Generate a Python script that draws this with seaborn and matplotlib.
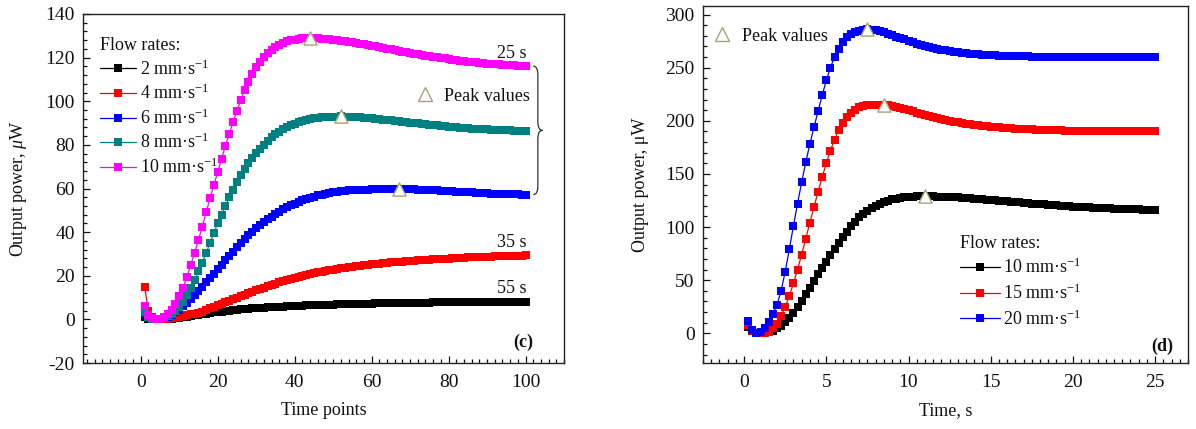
import numpy as np
import seaborn as sns
import matplotlib.pyplot as plt
from matplotlib.lines import Line2D
from matplotlib.path import Path
from matplotlib.patches import PathPatch
from matplotlib.ticker import MultipleLocator

# (c) output power vs time point, five flow rates (100 points each)
time_points = np.arange(1, 101)

p2 = [1.0, 0.3, 0.1, 0.0, 0.0, 0.1, 0.2, 0.4, 0.6, 0.8,
      1.0, 1.3, 1.6, 1.9, 2.1, 2.4, 2.7, 2.9, 3.2, 3.4,
      3.6, 3.8, 4.0, 4.2, 4.4, 4.6, 4.7, 4.9, 5.0, 5.2,
      5.3, 5.4, 5.5, 5.6, 5.7, 5.8, 5.9, 6.0, 6.1, 6.2,
      6.3, 6.35, 6.4, 6.5, 6.55, 6.6, 6.65, 6.7, 6.75, 6.8,
      6.85, 6.9, 6.95, 7.0, 7.05, 7.1, 7.1, 7.15, 7.2, 7.25,
      7.3, 7.3, 7.35, 7.4, 7.4, 7.45, 7.5, 7.5, 7.55, 7.6,
      7.6, 7.65, 7.65, 7.7, 7.7, 7.75, 7.75, 7.8, 7.8, 7.85,
      7.85, 7.9, 7.9, 7.9, 7.95, 7.95, 8.0, 8.0, 8.0, 8.05,
      8.05, 8.05, 8.1, 8.1, 8.1, 8.15, 8.15, 8.15, 8.2, 8.2]

p4 = [15.0, 4.0, 1.0, 0.2, 0.0, 0.1, 0.3, 0.6, 0.9, 1.2,
      1.5, 1.9, 2.3, 2.7, 3.1, 3.6, 4.3, 5.0, 5.7, 6.4,
      7.1, 7.8, 8.5, 9.2, 9.9, 10.6, 11.3, 12.0, 12.7, 13.3,
      14.0, 14.6, 15.2, 15.8, 16.4, 17.0, 17.5, 18.0, 18.5, 19.0,
      19.5, 19.9, 20.3, 20.7, 21.1, 21.5, 21.9, 22.2, 22.5, 22.8,
      23.1, 23.4, 23.7, 23.9, 24.2, 24.4, 24.6, 24.8, 25.0, 25.2,
      25.4, 25.6, 25.8, 25.9, 26.1, 26.2, 26.4, 26.5, 26.7, 26.8,
      26.9, 27.0, 27.2, 27.3, 27.4, 27.5, 27.6, 27.7, 27.8, 27.9,
      28.0, 28.1, 28.2, 28.3, 28.4, 28.4, 28.5, 28.6, 28.7, 28.7,
      28.8, 28.9, 28.9, 29.0, 29.0, 29.1, 29.1, 29.2, 29.2, 29.3]

p6 = [2.5, 0.8, 0.2, 0.0, 0.2, 0.6, 1.3, 2.2, 3.3, 4.5,
      6.0, 7.6, 9.3, 11.1, 13.0, 15.0, 17.0, 19.0, 21.0, 23.0,
      25.0, 27.0, 29.0, 31.0, 33.0, 35.0, 36.8, 38.5, 40.1, 41.7,
      43.2, 44.6, 45.9, 47.1, 48.3, 49.4, 50.4, 51.4, 52.3, 53.1,
      53.9, 54.6, 55.2, 55.8, 56.3, 56.8, 57.2, 57.6, 57.9, 58.2,
      58.5, 58.7, 58.9, 59.1, 59.2, 59.3, 59.4, 59.5, 59.5, 59.6,
      59.6, 59.6, 59.7, 59.7, 59.7, 59.7, 59.8, 59.7, 59.7, 59.6,
      59.6, 59.5, 59.5, 59.4, 59.3, 59.2, 59.1, 59.0, 58.9, 58.8,
      58.7, 58.6, 58.5, 58.4, 58.3, 58.2, 58.1, 58.0, 57.9, 57.8,
      57.7, 57.7, 57.6, 57.5, 57.5, 57.4, 57.3, 57.3, 57.2, 57.2]

p8 = [3.5, 1.0, 0.2, 0.0, 0.3, 0.8, 1.6, 2.6, 4.0, 5.5,
      8.0, 11.0, 14.5, 18.0, 22.0, 26.0, 30.5, 35.0, 39.5, 44.0,
      48.0, 52.0, 56.0, 59.5, 63.0, 66.0, 69.0, 71.5, 74.0, 76.2,
      78.2, 80.1, 81.8, 83.4, 84.8, 86.0, 87.1, 88.1, 88.9, 89.7,
      90.3, 90.9, 91.4, 91.8, 92.1, 92.4, 92.6, 92.8, 92.9, 93.0,
      93.0, 93.1, 93.0, 92.9, 92.9, 92.8, 92.7, 92.5, 92.4, 92.2,
      92.0, 91.8, 91.6, 91.4, 91.2, 91.0, 90.8, 90.6, 90.4, 90.2,
      90.0, 89.8, 89.6, 89.4, 89.2, 89.0, 88.9, 88.7, 88.5, 88.4,
      88.2, 88.1, 87.9, 87.8, 87.7, 87.5, 87.4, 87.3, 87.2, 87.1,
      87.0, 86.9, 86.8, 86.7, 86.6, 86.6, 86.5, 86.4, 86.4, 86.3]

p10 = [6.0, 2.0, 0.5, 0.0, 0.3, 1.0, 2.5, 4.5, 7.0, 10.5,
       14.5, 19.5, 25.0, 30.5, 36.5, 42.5, 49.0, 55.5, 61.5, 67.5,
       73.5, 79.5, 85.0, 90.5, 95.5, 100.5, 105.0, 109.0, 112.5, 115.5,
       118.0, 120.2, 122.0, 123.6, 124.9, 125.9, 126.7, 127.4, 127.9, 128.3,
       128.6, 128.8, 128.9, 129.0, 128.9, 128.8, 128.7, 128.6, 128.4, 128.2,
       128.0, 127.8, 127.6, 127.3, 127.0, 126.7, 126.4, 126.1, 125.8, 125.5,
       125.1, 124.8, 124.4, 124.1, 123.8, 123.4, 123.1, 122.8, 122.5, 122.1,
       121.8, 121.5, 121.2, 120.9, 120.6, 120.3, 120.1, 119.8, 119.6, 119.3,
       119.1, 118.9, 118.6, 118.4, 118.2, 118.0, 117.8, 117.7, 117.5, 117.3,
       117.2, 117.0, 116.9, 116.8, 116.6, 116.5, 116.4, 116.3, 116.2, 116.1]

# (d) output power vs time in seconds, 0.25 s per point
time_s = time_points * 0.25

p15 = [8.0, 2.0, 0.3, 0.0, 0.4, 1.5, 4.5, 9.0, 16.0, 25.0,
       35.0, 47.0, 60.0, 74.0, 89.0, 104.0, 119.0, 133.0, 147.0, 160.0,
       172.0, 182.0, 191.0, 198.0, 203.5, 207.5, 210.5, 212.5, 213.8, 214.5,
       214.7, 214.8, 214.9, 215.0, 214.7, 214.1, 213.3, 212.3, 211.2, 210.0,
       208.8, 207.6, 206.5, 205.4, 204.4, 203.4, 202.5, 201.6, 200.8, 200.0,
       199.3, 198.6, 198.0, 197.4, 196.8, 196.3, 195.8, 195.3, 194.9, 194.5,
       194.1, 193.8, 193.5, 193.2, 192.9, 192.7, 192.4, 192.2, 192.0, 191.8,
       191.7, 191.5, 191.4, 191.3, 191.1, 191.0, 190.9, 190.8, 190.7, 190.7,
       190.6, 190.6, 190.5, 190.5, 190.5, 190.4, 190.4, 190.4, 190.3, 190.3,
       190.3, 190.3, 190.2, 190.2, 190.2, 190.2, 190.1, 190.1, 190.1, 190.1]

p20 = [12.0, 3.0, 0.5, 1.5, 5.0, 10.5, 18.0, 27.0, 40.0, 58.0,
       79.0, 101.0, 122.0, 142.0, 161.0, 178.0, 194.0, 209.0, 224.0, 238.0,
       250.0, 260.0, 268.0, 274.0, 278.5, 281.6, 283.6, 284.9, 285.6, 285.9,
       285.7, 285.1, 284.2, 283.1, 281.9, 280.6, 279.3, 277.9, 276.5, 275.1,
       273.8, 272.6, 271.5, 270.5, 269.5, 268.6, 267.8, 267.0, 266.3, 265.7,
       265.1, 264.6, 264.1, 263.7, 263.3, 262.9, 262.6, 262.3, 262.0, 261.8,
       261.6, 261.4, 261.2, 261.0, 260.9, 260.8, 260.7, 260.6, 260.5, 260.4,
       260.3, 260.3, 260.2, 260.2, 260.1, 260.1, 260.0, 260.0, 260.0, 259.9,
       259.9, 259.9, 259.9, 259.8, 259.8, 259.8, 259.8, 259.8, 259.7, 259.7,
       259.7, 259.7, 259.7, 259.7, 259.6, 259.6, 259.6, 259.6, 259.6, 259.6]

labels_c = ['2 mm·s$^{-1}$', '4 mm·s$^{-1}$', '6 mm·s$^{-1}$', '8 mm·s$^{-1}$', '10 mm·s$^{-1}$']
colors_c = ['#000000', '#ff0000', '#0000ff', '#008080', '#ff00ff']
labels_d = ['10 mm·s$^{-1}$', '15 mm·s$^{-1}$', '20 mm·s$^{-1}$']
colors_d = ['#000000', '#ff0000', '#0000ff']
end_notes = ['55 s', '35 s', None, None, '25 s']

PEAK = '#a8a472'
FS = 13
TICK_FS = 14

sns.set_style('ticks')
plt.rcParams['font.family'] = ['Liberation Serif', 'DejaVu Serif']
plt.rcParams['mathtext.fontset'] = 'custom'
plt.rcParams['mathtext.rm'] = 'Liberation Serif'
plt.rcParams['mathtext.it'] = 'Liberation Serif:italic'
plt.rcParams['mathtext.bf'] = 'Liberation Serif:bold'
plt.rcParams['axes.unicode_minus'] = False
plt.rcParams['text.color'] = '#111111'
plt.rcParams['axes.labelcolor'] = '#111111'


def draw_series(ax, x, series, colors):
    for y, col in zip(series, colors):
        sns.lineplot(x=x, y=y, ax=ax, color=col, marker='s', markersize=6,
                     markeredgewidth=0, linewidth=0.9, legend=False)
    return ax.get_lines()[-len(series):]


def mark_peaks(ax, x, series):
    for y in series:
        i = int(np.argmax(y))
        sns.scatterplot(x=[x[i]], y=[y[i]], ax=ax, marker='^', s=90,
                        facecolor='white', edgecolor=PEAK, linewidth=1.0,
                        zorder=6, legend=False)


def style_axes(ax, xmaj, xmin, ymaj, ymin):
    ax.xaxis.set_major_locator(MultipleLocator(xmaj))
    ax.xaxis.set_minor_locator(MultipleLocator(xmin))
    ax.yaxis.set_major_locator(MultipleLocator(ymaj))
    ax.yaxis.set_minor_locator(MultipleLocator(ymin))
    ax.tick_params(which='both', direction='in', top=False, right=False,
                   labelsize=TICK_FS, width=0.9, colors='#111111')
    ax.tick_params(which='major', length=5)
    ax.tick_params(which='minor', length=2.8)
    ax.tick_params(axis='x', which='major', pad=8)
    ax.tick_params(axis='y', which='major', pad=6)
    for s in ax.spines.values():
        s.set_color('#222222')
        s.set_linewidth(1.0)


peak_handle = Line2D([], [], marker='^', ls='none', ms=10, mfc='white',
                     mec=PEAK, mew=1.0)

fig = plt.figure(figsize=(11.96, 4.29), dpi=100)
ax_c = fig.add_axes([0.0694, 0.1538, 0.4022, 0.8136])
ax_d = fig.add_axes([0.5878, 0.1538, 0.4055, 0.8322])

# ---- panel (c)
series_c = [p2, p4, p6, p8, p10]
lines_c = draw_series(ax_c, time_points, series_c, colors_c)
mark_peaks(ax_c, time_points, [p6, p8, p10])
ax_c.set_xlim(-15, 110)
ax_c.set_ylim(-20, 140)
style_axes(ax_c, 20, 2, 20, 4)
ax_c.set_xlabel('Time points', fontsize=FS, labelpad=8)
ax_c.set_ylabel('Output power, $\\mu$W', fontsize=FS, labelpad=12)

for y, note in zip(series_c, end_notes):
    if note:
        ax_c.annotate(note, xy=(time_points[-1], y[-1]), xytext=(1, 3),
                      textcoords='offset points', ha='right', va='bottom',
                      fontsize=FS)

# curly brace grouping the three curves that peak
xb, wb = 102.0, 2.4
yt, yb = p10[-1], p6[-1]
ym, d = (yt + yb) / 2, 4.0
verts = [(xb, yt), (xb + wb / 2, yt), (xb + wb / 2, yt - d),
         (xb + wb / 2, ym + d),
         (xb + wb / 2, ym), (xb + wb, ym),
         (xb + wb / 2, ym), (xb + wb / 2, ym - d),
         (xb + wb / 2, yb + d),
         (xb + wb / 2, yb), (xb, yb)]
codes = [Path.MOVETO, Path.CURVE3, Path.CURVE3, Path.LINETO,
         Path.CURVE3, Path.CURVE3, Path.CURVE3, Path.CURVE3,
         Path.LINETO, Path.CURVE3, Path.CURVE3]
ax_c.add_patch(PathPatch(Path(verts, codes), fill=False, lw=0.9,
                         edgecolor='#333333', clip_on=False))

leg1 = ax_c.legend(lines_c, labels_c, title='Flow rates:', loc='upper left',
                   bbox_to_anchor=(0.02, 0.955), frameon=False, fontsize=FS,
                   title_fontsize=FS, handlelength=2.0, handletextpad=0.2,
                   labelspacing=0.29, alignment='left', borderaxespad=0)
ax_c.add_artist(leg1)
ax_c.legend([peak_handle], ['Peak values'], loc='center right',
            bbox_to_anchor=(0.943, 0.765), frameon=False, fontsize=FS,
            handlelength=1.0, handletextpad=0.5, borderaxespad=0)
ax_c.text(0.935, 0.058, '(c)', transform=ax_c.transAxes, ha='right',
          va='center', fontsize=FS, fontweight='bold')

# ---- panel (d)
series_d = [p10, p15, p20]
lines_d = draw_series(ax_d, time_s, series_d, colors_d)
mark_peaks(ax_d, time_s, series_d)
ax_d.set_xlim(-2.5, 27)
ax_d.set_ylim(-28, 308)
style_axes(ax_d, 5, 0.5, 50, 10)
ax_d.set_xlabel('Time, s', fontsize=FS, labelpad=8)
ax_d.set_ylabel('Output power, μW', fontsize=FS, labelpad=12)

leg2 = ax_d.legend(lines_d, labels_d, title='Flow rates:', loc='upper left',
                   bbox_to_anchor=(0.515, 0.38), frameon=False, fontsize=FS,
                   title_fontsize=FS, handlelength=2.2, handletextpad=0.2,
                   labelspacing=0.35, alignment='left', borderaxespad=0)
ax_d.add_artist(leg2)
ax_d.legend([peak_handle], ['Peak values'], loc='upper left',
            bbox_to_anchor=(0.005, 0.96), frameon=False, fontsize=FS,
            handlelength=1.0, handletextpad=0.6, borderaxespad=0)
ax_d.text(0.969, 0.048, '(d)', transform=ax_d.transAxes, ha='right',
          va='center', fontsize=FS, fontweight='bold')

fig.savefig('out.png', dpi=100)
